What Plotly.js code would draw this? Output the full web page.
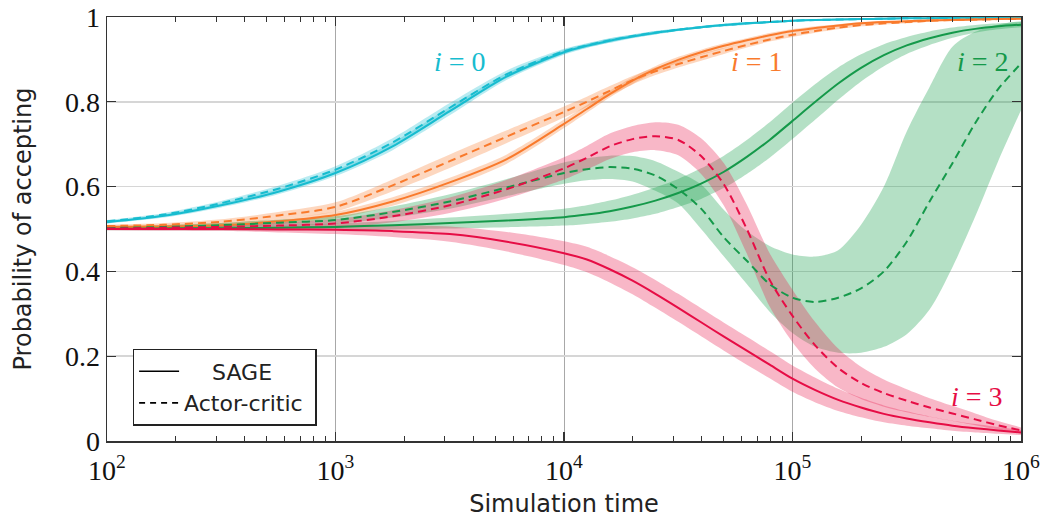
<!DOCTYPE html>
<html>
<head>
<meta charset="utf-8">
<script src="https://cdn.plot.ly/plotly-3.0.1.min.js"></script>
<style>
  html, body { margin: 0; padding: 0; background: #fff; }
  #chart { width: 1044px; height: 518px; }
</style>
</head>
<body>
<div id="chart"></div>
<script>
// Simulation time (x)
const time = [100, 178, 316, 562, 1000, 1778, 3162, 5623, 10000, 12589, 15849, 19953, 25119, 31623,
  39811, 50119, 63096, 79433, 100000, 125893, 158489, 199526, 251189, 316228, 398107, 501187,
  630957, 794328, 1000000];

// i = 0
const sage0 = [0.516, 0.531, 0.556, 0.588, 0.632, 0.695, 0.778, 0.860, 0.917, 0.932, 0.944, 0.954, 0.963,
  0.970, 0.976, 0.981, 0.985, 0.988, 0.991, 0.993, 0.994, 0.995, 0.996, 0.997, 0.997, 0.998, 0.998, 0.998, 0.998];
const ac0 = [0.518, 0.534, 0.561, 0.595, 0.640, 0.704, 0.786, 0.865, 0.919, 0.933, 0.945, 0.955, 0.963,
  0.970, 0.976, 0.981, 0.985, 0.988, 0.991, 0.993, 0.994, 0.995, 0.996, 0.997, 0.997, 0.998, 0.998, 0.998, 0.998];
const sage0Spread = [0.003, 0.004, 0.005, 0.006, 0.007, 0.009, 0.010, 0.008, 0.006, 0.005, 0.005, 0.004, 0.004,
  0.003, 0.003, 0.003, 0.003, 0.002, 0.002, 0.002, 0.002, 0.002, 0.002, 0.002, 0.001, 0.001, 0.001, 0.001, 0.001];
const ac0Spread = [0.003, 0.004, 0.005, 0.007, 0.008, 0.010, 0.011, 0.009, 0.006, 0.005, 0.005, 0.004, 0.004,
  0.003, 0.003, 0.003, 0.003, 0.002, 0.002, 0.002, 0.002, 0.002, 0.002, 0.002, 0.001, 0.001, 0.001, 0.001, 0.001];

// i = 1
const sage1 = [0.505, 0.506, 0.509, 0.518, 0.533, 0.565, 0.610, 0.665, 0.748, 0.783, 0.818, 0.850, 0.877,
  0.899, 0.917, 0.932, 0.945, 0.957, 0.967, 0.974, 0.980, 0.985, 0.988, 0.990, 0.992, 0.993, 0.994, 0.995, 0.996];
const ac1 = [0.507, 0.510, 0.517, 0.532, 0.552, 0.603, 0.660, 0.718, 0.776, 0.800, 0.826, 0.851, 0.872,
  0.889, 0.905, 0.920, 0.934, 0.947, 0.958, 0.967, 0.975, 0.981, 0.985, 0.988, 0.991, 0.993, 0.994, 0.995, 0.996];
const sage1Spread = [0.003, 0.004, 0.005, 0.006, 0.008, 0.010, 0.011, 0.011, 0.010, 0.009, 0.008, 0.008, 0.007,
  0.007, 0.006, 0.006, 0.005, 0.005, 0.004, 0.004, 0.003, 0.003, 0.003, 0.002, 0.002, 0.002, 0.002, 0.002, 0.002];
const ac1Spread = [0.003, 0.004, 0.006, 0.008, 0.011, 0.014, 0.016, 0.015, 0.013, 0.012, 0.011, 0.010, 0.009,
  0.008, 0.008, 0.007, 0.006, 0.005, 0.005, 0.004, 0.004, 0.003, 0.003, 0.003, 0.002, 0.002, 0.002, 0.002, 0.002];

// i = 2
const sage2 = [0.500, 0.501, 0.502, 0.503, 0.505, 0.509, 0.514, 0.520, 0.528, 0.534, 0.542, 0.553, 0.567,
  0.585, 0.607, 0.635, 0.670, 0.710, 0.755, 0.800, 0.843, 0.880, 0.910, 0.933, 0.950, 0.963, 0.972, 0.978, 0.982];
const sage2Spread = [0.003, 0.004, 0.005, 0.006, 0.008, 0.010, 0.013, 0.016, 0.020, 0.022, 0.025, 0.028, 0.031,
  0.033, 0.036, 0.038, 0.040, 0.042, 0.043, 0.042, 0.038, 0.032, 0.026, 0.020, 0.016, 0.012, 0.009, 0.007, 0.006];
const ac2 = [0.502, 0.505, 0.509, 0.515, 0.521, 0.540, 0.565, 0.598, 0.632, 0.641, 0.646, 0.642, 0.626,
  0.594, 0.548, 0.480, 0.425, 0.370, 0.338, 0.328, 0.338, 0.360, 0.400, 0.470, 0.565, 0.655, 0.750, 0.830, 0.890];
const ac2Lo = [0.499, 0.501, 0.504, 0.508, 0.512, 0.527, 0.548, 0.578, 0.607, 0.615, 0.618, 0.612, 0.590,
  0.560, 0.500, 0.435, 0.370, 0.305, 0.255, 0.222, 0.208, 0.208, 0.222, 0.252, 0.310, 0.410, 0.530, 0.660, 0.780];
const ac2Hi = [0.505, 0.509, 0.514, 0.522, 0.530, 0.553, 0.582, 0.618, 0.657, 0.667, 0.673, 0.672, 0.660,
  0.635, 0.605, 0.545, 0.495, 0.460, 0.440, 0.435, 0.450, 0.510, 0.600, 0.730, 0.835, 0.930, 0.965, 0.982, 0.990];

// i = 3
const sage3 = [0.500, 0.500, 0.500, 0.499, 0.498, 0.495, 0.488, 0.470, 0.443, 0.428, 0.405, 0.378, 0.347,
  0.314, 0.280, 0.246, 0.213, 0.180, 0.147, 0.120, 0.097, 0.079, 0.064, 0.053, 0.044, 0.036, 0.030, 0.025, 0.020];
const sage3Spread = [0.003, 0.004, 0.005, 0.007, 0.010, 0.014, 0.018, 0.023, 0.028, 0.030, 0.031, 0.032, 0.033,
  0.033, 0.033, 0.033, 0.033, 0.032, 0.031, 0.029, 0.026, 0.023, 0.020, 0.017, 0.014, 0.012, 0.010, 0.008, 0.006];
const ac3 = [0.501, 0.503, 0.505, 0.508, 0.513, 0.530, 0.556, 0.594, 0.643, 0.668, 0.695, 0.712, 0.719,
  0.710, 0.672, 0.605, 0.500, 0.380, 0.295, 0.225, 0.172, 0.137, 0.113, 0.095, 0.079, 0.065, 0.051, 0.037, 0.025];
const ac3Spread = [0.003, 0.004, 0.005, 0.007, 0.010, 0.014, 0.018, 0.022, 0.026, 0.028, 0.030, 0.031, 0.033,
  0.036, 0.042, 0.050, 0.058, 0.063, 0.062, 0.055, 0.046, 0.038, 0.032, 0.027, 0.022, 0.018, 0.014, 0.010, 0.007];

const colors = ['#17bccf', '#f97a2c', '#15994a', '#e60d45'];
const bandColors = ['rgba(23,188,207,0.30)', 'rgba(249,122,44,0.30)', 'rgba(21,160,74,0.32)', 'rgba(234,30,80,0.32)'];
const labels = ['<i>i</i> = 0', '<i>i</i> = 1', '<i>i</i> = 2', '<i>i</i> = 3'];
const labelX = [3500, 70000, 680000, 640000];
const labelY = [0.894, 0.894, 0.894, 0.106];
const legendNames = ['&nbsp;&nbsp;&nbsp;&nbsp;SAGE', 'Actor-critic&nbsp;'];

const minus = (a, s) => a.map((v, i) => v - s[i]);
const plus = (a, s) => a.map((v, i) => v + s[i]);

function band(lo, hi, color) {
  return [
    {x: time, y: lo, type: 'scatter', mode: 'lines', line: {width: 0, shape: 'spline', smoothing: 0.8},
     showlegend: false, hoverinfo: 'skip'},
    {x: time, y: hi, type: 'scatter', mode: 'lines', line: {width: 0, shape: 'spline', smoothing: 0.8},
     fill: 'tonexty', fillcolor: color, showlegend: false, hoverinfo: 'skip'}
  ];
}
function line(y, color, dash) {
  return {x: time, y: y, type: 'scatter', mode: 'lines',
    line: {color: color, width: 2, dash: dash, shape: 'spline', smoothing: 0.8},
    showlegend: false, hoverinfo: 'skip'};
}

const traces = [].concat(
  band(minus(sage0, sage0Spread), plus(sage0, sage0Spread), bandColors[0]),
  band(minus(ac0, ac0Spread), plus(ac0, ac0Spread), bandColors[0]),
  band(minus(sage1, sage1Spread), plus(sage1, sage1Spread), bandColors[1]),
  band(minus(ac1, ac1Spread), plus(ac1, ac1Spread), bandColors[1]),
  band(minus(sage2, sage2Spread), plus(sage2, sage2Spread), bandColors[2]),
  band(ac2Lo, ac2Hi, bandColors[2]),
  band(minus(sage3, sage3Spread), plus(sage3, sage3Spread), bandColors[3]),
  band(minus(ac3, ac3Spread), plus(ac3, ac3Spread), bandColors[3]),
  [
    line(sage0, colors[0], 'solid'), line(ac0, colors[0], '8px,5px'),
    line(sage1, colors[1], 'solid'), line(ac1, colors[1], '8px,5px'),
    line(sage2, colors[2], 'solid'), line(ac2, colors[2], '8px,5px'),
    line(sage3, colors[3], 'solid'), line(ac3, colors[3], '8px,5px'),
    {x: [null], y: [null], type: 'scatter', mode: 'lines', name: legendNames[0],
     line: {color: '#000', width: 1.6, dash: 'solid'}},
    {x: [null], y: [null], type: 'scatter', mode: 'lines', name: legendNames[1],
     line: {color: '#000', width: 1.6, dash: '6px,5px'}}
  ]
);

const annotations = labels.map((t, i) => ({
  x: Math.log10(labelX[i]), y: labelY[i], xref: 'x', yref: 'y', text: t, showarrow: false,
  font: {family: 'Liberation Serif, serif', size: 28, color: colors[i]}
}));

const layout = {
  width: 1044, height: 518,
  margin: {l: 107, r: 23, t: 17, b: 77},
  paper_bgcolor: '#fff', plot_bgcolor: '#fff',
  font: {family: 'DejaVu Sans, sans-serif', color: '#222'},
  xaxis: {
    type: 'log', range: [2, 6],
    tickvals: [100, 1000, 10000, 100000, 1000000],
    ticktext: ['10<sup>2</sup>', '10<sup>3</sup>', '10<sup>4</sup>', '10<sup>5</sup>', '10<sup>6</sup>'],
    tickfont: {family: 'Liberation Serif, serif', size: 28, color: '#111'},
    ticks: 'inside', ticklen: 9, tickwidth: 1.2, tickcolor: '#333', ticklabelstandoff: 4,
    showline: true, linecolor: '#333', linewidth: 1.5, mirror: 'ticks',
    showgrid: true, gridcolor: '#a8a8a8', gridwidth: 1,
    minor: {dtick: 'D1', ticks: 'inside', ticklen: 5, tickwidth: 1, tickcolor: '#333', showgrid: false},
    zeroline: false,
    title: {text: 'Simulation time', font: {family: 'DejaVu Sans, sans-serif', size: 24, color: '#222'}, standoff: 10}
  },
  yaxis: {
    range: [0, 1],
    tickvals: [0, 0.2, 0.4, 0.6, 0.8, 1],
    ticktext: ['0', '0.2', '0.4', '0.6', '0.8', '1'],
    tickfont: {family: 'Liberation Serif, serif', size: 28, color: '#111'},
    ticks: 'inside', ticklen: 9, tickwidth: 1.2, tickcolor: '#333',
    showline: true, linecolor: '#333', linewidth: 1.5, mirror: 'ticks',
    showgrid: true, gridcolor: '#d6d6d6', gridwidth: 1.5,
    zeroline: false,
    title: {text: 'Probability of accepting', font: {family: 'DejaVu Sans, sans-serif', size: 24, color: '#222'}, standoff: 26}
  },
  legend: {
    x: 0.028, y: 0.217, xanchor: 'left', yanchor: 'top', traceorder: 'normal',
    bgcolor: '#fff', bordercolor: '#222', borderwidth: 1.5,
    font: {family: 'DejaVu Sans, sans-serif', size: 22, color: '#222'},
    itemwidth: 40
  },
  annotations: annotations,
  showlegend: true
};

Plotly.newPlot('chart', traces, layout, {staticPlot: true, displayModeBar: false});
</script>
</body>
</html>
